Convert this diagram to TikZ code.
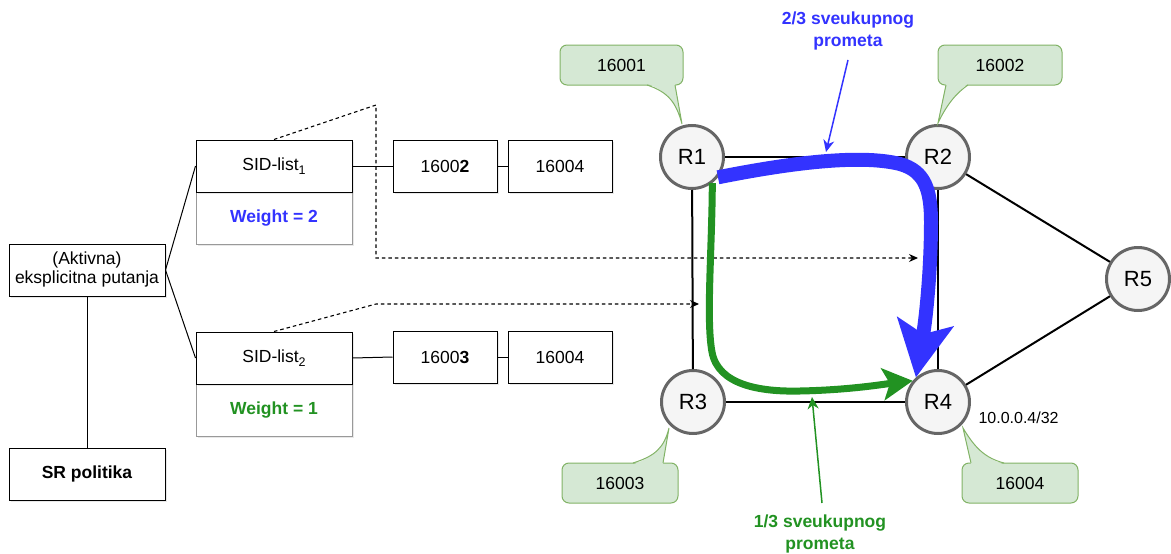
\documentclass[tikz,border=0pt]{standalone}
\usepackage{fontspec}
\setmainfont{Liberation Sans}
\usetikzlibrary{arrows.meta,shadows}
\definecolor{cfill}{HTML}{D5E8D4}
\definecolor{cline}{HTML}{82B366}
\definecolor{rfill}{HTML}{F5F5F5}
\definecolor{rline}{HTML}{666666}
\definecolor{pblue}{HTML}{3333FF}
\definecolor{pgreen}{HTML}{229222}
\definecolor{wline}{HTML}{999999}
\newcommand{\sidsub}[1]{\raisebox{-4pt}{\fontsize{12.5}{13}\selectfont #1}}
\begin{document}
\begin{tikzpicture}[x=1pt,y=-1pt,
  txt/.style={font=\fontsize{17.5}{21}\selectfont},
  shad/.style={drop shadow={shadow xshift=2pt,shadow yshift=-2pt,opacity=0.18}},
  box/.style={txt,draw=black,line width=1pt,fill=white,minimum width=156pt,minimum height=52pt,inner sep=0pt,shad},
  wbox/.style={box,draw=wline},
  sbox/.style={box,minimum width=104pt},
  router/.style={circle,draw=rline,line width=3pt,fill=rfill,minimum size=63pt,inner sep=0pt,font=\fontsize{22}{26}\selectfont},
  cbox/.style={txt,draw=cline,fill=cfill,line width=1pt,rounded corners=7pt,inner sep=0pt},
  net/.style={draw=black,line width=2pt},
  dashline/.style={draw=black,line width=1.1pt,dash pattern=on 3.5pt off 3pt},
  dtip/.style={-{Stealth[length=9pt,width=8pt]}},
  lbl/.style={font=\bfseries\fontsize{17.5}{22}\selectfont,align=center}
]
\useasboundingbox (0,0) rectangle (1171,554);

% left tree
\node[box] (ep) at (87,270) {\begin{tabular}{@{}c@{}}(Aktivna)\\[-2pt]eksplicitna putanja\end{tabular}};
\node[box,font=\bfseries\fontsize{17.5}{21}\selectfont] (sr) at (87,474) {SR politika};
\node[wbox,text=pblue,font=\bfseries\fontsize{17.5}{21}\selectfont] (w1) at (274,218) {Weight = 2};
\node[wbox,text=pgreen,font=\bfseries\fontsize{17.5}{21}\selectfont] (w2) at (274,410) {Weight = 1};
\node[box] (s1) at (274,166) {SID-list\sidsub{1}};
\node[box] (s2) at (274,358) {SID-list\sidsub{2}};

\node[sbox] (a2) at (445,166) {1600\textbf{2}};
\node[sbox] (a4) at (560,166) {16004};
\node[sbox] (b3) at (445,357) {1600\textbf{3}};
\node[sbox] (b4) at (560,357) {16004};

\draw[line width=1pt] (ep.south) -- (sr.north);
\draw[line width=1pt] (ep.east) -- (s1.west);
\draw[line width=1pt] (ep.east) -- (s2.west);
\draw[line width=1pt] (s1.east) -- (a2.west);
\draw[line width=1pt] (a2.east) -- (a4.west);
\draw[line width=1pt] (s2.east) -- (b3.west);
\draw[line width=1pt] (b3.east) -- (b4.west);

% routers
\node[router] (R1) at (692,157) {R1};
\node[router] (R2) at (938,157) {R2};
\node[router] (R3) at (693,402) {R3};
\node[router] (R4) at (938,402) {R4};
\node[router] (R5) at (1138,279) {R5};
\draw[net] (R1) -- (R2);
\draw[net] (R1) -- (R3);
\draw[net] (R3) -- (R4);
\draw[net] (R2) -- (R4);
\draw[net] (R2) -- (R5);
\draw[net] (R4) -- (R5);
\node[anchor=west,font=\fontsize{16}{19}\selectfont] (ip) at (975,418) {10.0.0.4/32};

% dashed arrows
\coordinate (d1a) at (376,105);
\coordinate (d1b) at (376,258);
\coordinate (d1e) at (918,258);
\coordinate (d2a) at (376,304);
\coordinate (d2e) at (699,304);
\draw[dashline,dtip] (s1.north) -- (d1a) -- (d1b) -- (d1e);
\draw[dashline,dtip] (s2.north) -- (d2a) -- (d2e);

% callouts
\node[cbox,minimum width=123pt,minimum height=40pt] (c1) at (621.5,65) {16001};
\fill[cfill] (647,83.5) .. controls (668,92) and (676,102) .. (682,124) -- (675,83.5) -- cycle;
\draw[cline,line width=1pt] (647,85) .. controls (668,92) and (676,102) .. (682,124) -- (675,85);

\node[cbox,minimum width=124pt,minimum height=40pt] (c2) at (1000,65) {16002};
\fill[cfill] (946,83.5) -- (938,123) .. controls (948,102) and (958,92) .. (968,83.5) -- cycle;
\draw[cline,line width=1pt] (946,85) -- (938,123) .. controls (948,102) and (958,92) .. (968,85);

\node[cbox,minimum width=116pt,minimum height=40pt] (c3) at (620,483) {16003};
\fill[cfill] (633,464.5) .. controls (655,456) and (664,448) .. (669,428) -- (663,464.5) -- cycle;
\draw[cline,line width=1pt] (633,463) .. controls (655,456) and (664,448) .. (669,428) -- (663,463);

\node[cbox,minimum width=116pt,minimum height=40pt] (c4) at (1020,483) {16004};
\fill[cfill] (971,464.5) -- (963,428) .. controls (975,448) and (985,458) .. (1004,464.5) -- cycle;
\draw[cline,line width=1pt] (971,463) -- (963,428) .. controls (975,448) and (985,458) .. (1004,463);

% traffic paths
\draw[pblue,line width=14pt,-{Stealth[length=56pt,width=56pt,inset=12pt]}]
  (R1.-38) .. controls (790,163) and (860,154) .. (900,164)
  .. controls (925,171) and (931,190) .. (931,222)
  .. controls (931,270) and (926,318) .. (R4.132);
\draw[pgreen,line width=7pt,-{Stealth[length=30pt,width=32pt,inset=7pt]}]
  (R1.-52) .. controls (712,250) and (706,320) .. (712,352)
  .. controls (718,385) and (760,392) .. (800,391)
  .. controls (850,390) and (885,384) .. (R4.140);

% labels
\node[lbl,text=pblue] (lb) at (848,31) {2/3 sveukupnog\\prometa};
\node[lbl,text=pgreen] (lg) at (820,534) {1/3 sveukupnog\\prometa};
\coordinate (lbs) at (848,60);
\coordinate (lbe) at (826,152);
\coordinate (lgs) at (822,503);
\coordinate (lge) at (812,397);
\draw[pblue,line width=1.5pt,-{Stealth[length=12pt,width=11pt]}] (lbs) -- (lbe);
\draw[pgreen,line width=1.5pt,-{Stealth[length=12pt,width=11pt]}] (lgs) -- (lge);
\end{tikzpicture}
\end{document}
